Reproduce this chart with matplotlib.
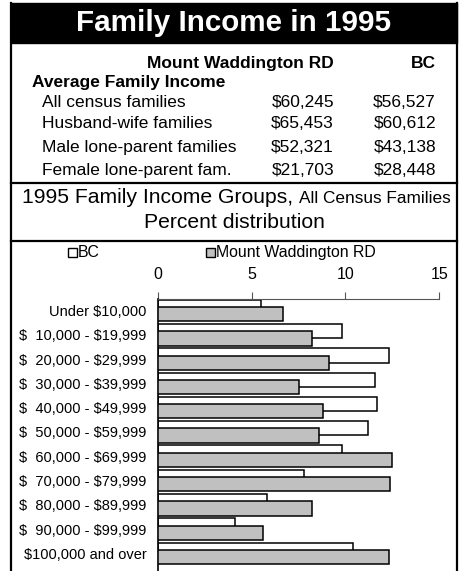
import matplotlib
matplotlib.use('Agg')
import matplotlib.pyplot as plt
from matplotlib.lines import Line2D
from matplotlib.patches import Rectangle
import numpy as np

plt.rcParams['font.family'] = ['Liberation Sans', 'DejaVu Sans']

W, H = 466, 571

# table data
row_labels = ['All census families', 'Husband-wife families',
              'Male lone-parent families', 'Female lone-parent fam.']
mw_income = ['\\$60,245', '\\$65,453', '\\$52,321', '\\$21,703']
bc_income = ['\\$56,527', '\\$60,612', '\\$43,138', '\\$28,448']

# chart data (percent distribution)
groups = ['Under \\$10,000', '\\$  10,000 - \\$19,999', '\\$  20,000 - \\$29,999',
          '\\$  30,000 - \\$39,999', '\\$  40,000 - \\$49,999', '\\$  50,000 - \\$59,999',
          '\\$  60,000 - \\$69,999', '\\$  70,000 - \\$79,999', '\\$  80,000 - \\$89,999',
          '\\$  90,000 - \\$99,999', '\\$100,000 and over']
bc_pct = [5.5, 9.8, 12.3, 11.6, 11.7, 11.2, 9.8, 7.8, 5.8, 4.1, 10.4]
mw_pct = [6.7, 8.2, 9.1, 7.5, 8.8, 8.6, 12.5, 12.4, 8.2, 5.6, 12.3]
xticks = [0, 5, 10, 15]


def fx(x):
    return x / W


def fy(y):
    return 1 - y / H


fig = plt.figure(figsize=(W / 100, H / 100), dpi=100)

# title band
fig.patches.append(Rectangle((fx(11), fy(43)), fx(446), 40 / H, transform=fig.transFigure,
                             facecolor='black', edgecolor='black'))
fig.text(fx(234), fy(23), 'Family Income in 1995', color='white', fontsize=21.3,
         fontweight='bold', ha='center', va='center')

# frame lines
lk = dict(color='black', lw=1.6, transform=fig.transFigure)
fig.lines.append(Line2D([fx(11), fx(11)], [fy(3), 0], **lk))
fig.lines.append(Line2D([fx(457), fx(457)], [fy(3), 0], **lk))
fig.lines.append(Line2D([fx(11), fx(457)], [fy(183), fy(183)], **lk))
fig.lines.append(Line2D([fx(11), fx(457)], [fy(241), fy(241)], **lk))

# table
fig.text(fx(334), fy(68), 'Mount Waddington RD', fontsize=12.5, fontweight='bold',
         ha='right', va='baseline')
fig.text(fx(436), fy(68), 'BC', fontsize=12.5, fontweight='bold', ha='right', va='baseline')
fig.text(fx(32), fy(87), 'Average Family Income', fontsize=12.5, fontweight='bold',
         ha='left', va='baseline')
row_y = [107, 128, 152, 175]
for lab, a, b, y in zip(row_labels, mw_income, bc_income, row_y):
    fig.text(fx(42), fy(y), lab, fontsize=12.5, ha='left', va='baseline')
    fig.text(fx(334), fy(y), a, fontsize=12.5, ha='right', va='baseline')
    fig.text(fx(436), fy(y), b, fontsize=12.5, ha='right', va='baseline')

# section header
t1 = fig.text(fx(22), fy(203), '1995 Family Income Groups, ', fontsize=15.2,
              ha='left', va='baseline')
fig.canvas.draw()
bb = t1.get_window_extent()
fig.text(bb.x1 / fig.bbox.width, fy(203), 'All Census Families', fontsize=12.4,
         ha='left', va='baseline')
fig.text(fx(234), fy(228), 'Percent distribution', fontsize=15.2, ha='center', va='baseline')

# chart
ax = fig.add_axes([fx(157.7), 0, fx(439.3) - fx(157.7), fy(299)])
y = np.arange(len(groups))
h = 0.59
ax.barh(y - 0.15, bc_pct, height=h, color='white', edgecolor='black', lw=1.1, zorder=2)
ax.barh(y + 0.15, mw_pct, height=h, color='#c0c0c0', edgecolor='black', lw=1.1, zorder=3)
ax.set_xlim(0, 15)
ax.set_ylim(10.72, -0.47)
ax.xaxis.tick_top()
ax.set_xticks(xticks)
ax.tick_params(axis='x', direction='out', length=5, color='#555555', labelsize=11.5,
               pad=7)
ax.set_yticks(y)
ax.set_yticklabels(groups, fontsize=10.5)
ax.tick_params(axis='y', length=0, pad=8)
for s in ['right', 'bottom']:
    ax.spines[s].set_visible(False)
ax.spines['top'].set_color('#555555')
ax.spines['left'].set_color('black')
ax.spines['left'].set_linewidth(1.2)

# legend
fig.patches.append(Rectangle((fx(68), fy(257)), 9 / W, 9 / H, transform=fig.transFigure,
                             facecolor='white', edgecolor='black', lw=1))
fig.text(fx(78), fy(257), 'BC', fontsize=11.4, ha='left', va='baseline')
fig.patches.append(Rectangle((fx(206), fy(257)), 9 / W, 9 / H, transform=fig.transFigure,
                             facecolor='#c0c0c0', edgecolor='black', lw=1))
fig.text(fx(216), fy(257), 'Mount Waddington RD', fontsize=11.4, ha='left', va='baseline')

fig.savefig('out.png', dpi=100)
